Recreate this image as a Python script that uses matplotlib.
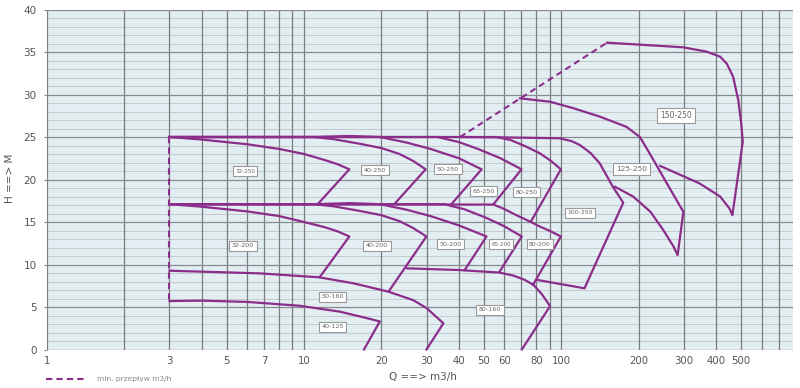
import matplotlib
matplotlib.use("Agg")
import matplotlib.pyplot as plt
from matplotlib.lines import Line2D

# pump curves, points (Q m3/h, H m)
curve_32_250 = [(3, 25.0), (4, 24.7), (6, 24.15), (8, 23.6), (10, 23.0), (12, 22.3), (13.5, 21.8), (15, 21.2),
                (11.3, 17.1)]
curve_40_250 = [(3, 25.0), (10.9, 25.0), (13, 24.75), (16.5, 24.2), (20, 23.7), (23.5, 23.0), (26.5, 22.2),
                (29.7, 21.2), (22.5, 17.15)]
curve_50_250 = [(3, 25.0), (11, 25.0), (15, 25.12), (19.7, 25.0), (25, 24.35), (31, 23.6), (40, 22.5),
                (49, 21.2), (37.5, 17.15)]
curve_65_250 = [(3, 25.0), (33, 25.0), (40, 24.4), (47.4, 23.6), (58, 22.5), (70, 21.2), (54.5, 17.1)]
curve_80_250 = [(3, 25.0), (56, 25.0), (63.4, 24.65), (72, 23.95), (82.3, 23.1), (91, 22.2), (99.6, 21.2),
                (76.3, 15.1)]
curve_100_250 = [(40.4, 25.0), (57.8, 24.96), (98.6, 24.85), (110, 24.5), (118, 24.06), (130, 23.1),
                 (141, 21.9), (158.5, 19.15), (174, 17.27), (123, 7.2), (80.2, 8.2)]
curve_125_250 = [(69.1, 29.55), (90.4, 29.15), (111, 28.4), (141, 27.4), (179, 26.2), (202, 25.0),
                 (228, 22.3), (257, 19.55), (298, 16.2), (283, 11.1), (273, 12.1), (249, 14.05),
                 (222, 16.2), (190, 18.0), (161.5, 19.15)]
curve_150_250 = [(150.5, 36.1), (298, 35.55), (366, 35.05), (414, 34.45), (440, 33.6), (465, 32.1),
                 (487, 29.35), (500, 26.6), (507, 24.45), (462, 15.8), (450, 16.6), (414, 18.0),
                 (344, 19.55), (242, 21.6)]

curve_32_200 = [(3, 17.1), (4, 16.8), (6, 16.25), (8, 15.7), (10, 15.0), (12, 14.4), (13.5, 13.9), (15, 13.3),
                (11.5, 8.5)]
curve_40_200 = [(3, 17.1), (10.9, 17.1), (13, 16.85), (16.5, 16.3), (20, 15.8), (23.5, 15.1), (26.5, 14.3),
                (29.9, 13.3), (21.3, 6.8)]
curve_50_200 = [(3, 17.1), (11, 17.1), (15, 17.22), (19.7, 17.1), (25, 16.45), (31, 15.7), (40, 14.6),
                (51.2, 13.3), (42.1, 9.35)]
curve_65_200 = [(3, 17.1), (35, 17.1), (42, 16.5), (51, 15.5), (60, 14.5), (70.2, 13.3), (57.5, 9.15)]
curve_80_200 = [(3, 17.1), (54.5, 17.05), (59.3, 16.6), (66.9, 15.8), (75, 15.1), (82.7, 14.45),
                (91, 13.9), (99.6, 13.3), (77.6, 7.6)]

curve_50_160 = [(3, 9.27), (6.7, 8.96), (11.4, 8.5), (15.5, 7.8), (21.3, 6.8), (26.6, 5.8), (30, 4.85),
                (34.8, 3.08), (29.9, 0)]
curve_40_125 = [(3, 5.7), (4, 5.75), (6, 5.6), (9.6, 5.15), (13.8, 4.45), (17.5, 3.7), (19.7, 3.3), (17.1, 0)]
curve_80_160 = [(25.1, 9.55), (40, 9.35), (57.5, 9.05), (65, 8.7), (72, 8.2), (78, 7.6), (84, 6.5),
                (90.4, 5.1), (70.2, 0)]

# minimum flow (dashed)
min_flow_vertical = [(3, 25.0), (3, 5.7)]
min_flow_diagonal = [(40.4, 25.0), (150.5, 36.1)]

label_names = ["32-250", "40-250", "50-250", "65-250", "80-250", "100-250", "125-250", "150-250",
               "32-200", "40-200", "50-200", "65-200", "80-200", "50-160", "40-125", "80-160"]
label_q = [5.9, 18.9, 36.3, 49.9, 73, 118, 187, 280, 5.8, 19.2, 37, 58.3, 82.6, 12.9, 12.9, 52.7]
label_h = [21.0, 21.1, 21.2, 18.6, 18.5, 16.1, 21.2, 27.5, 12.2, 12.2, 12.4, 12.4, 12.4, 6.2, 2.7, 4.7]

x_ticks = [1, 3, 5, 7, 10, 20, 30, 40, 50, 60, 80, 100, 200, 300, 400, 500]

purple = "#8b2d8b"

fig = plt.figure(figsize=(8, 3.88), dpi=100)
ax = fig.add_axes([0.0584, 0.0992, 0.9329, 0.8763])
ax.set_facecolor("#e3eef3")
ax.set_xscale("log")
ax.set_xlim(1, 795)
ax.set_ylim(0, 40)

# grid
grid_x = [m * 10 ** e for e in range(3) for m in range(1, 10) if m * 10 ** e < 795]
for gx in grid_x:
    ax.axvline(gx, color="#7a7d80", lw=0.9, zorder=1)
for gy in range(0, 41):
    if gy % 5 == 0:
        ax.axhline(gy, color="#858b8e", lw=0.9, zorder=1)
    else:
        ax.axhline(gy, color="#c2cacd", lw=0.7, zorder=0.9)

for s in ax.spines.values():
    s.set_visible(False)

ax.set_xticks(x_ticks)
ax.set_xticklabels([str(t) for t in x_ticks])
ax.set_xticks([], minor=True)
ax.tick_params(axis="x", which="both", length=0, pad=4.5, labelsize=7.3, labelcolor="#555555")
ax.set_yticks(range(0, 41, 5))
ax.tick_params(axis="y", length=2.5, pad=4.8, labelsize=7.5, labelcolor="#555555", color="#888888")

curves = [curve_32_250, curve_40_250, curve_50_250, curve_65_250, curve_80_250, curve_100_250,
          curve_125_250, curve_150_250, curve_32_200, curve_40_200, curve_50_200, curve_65_200,
          curve_80_200, curve_50_160, curve_40_125, curve_80_160]
for pts in curves:
    q, h = zip(*pts)
    ax.plot(q, h, color=purple, lw=1.6, solid_joinstyle="round", zorder=3, clip_on=False)

for pts in [min_flow_vertical, min_flow_diagonal]:
    q, h = zip(*pts)
    ax.plot(q, h, color=purple, lw=1.5, dashes=(3, 2), zorder=3)

sizes = [4.1, 4.6, 4.6, 4.6, 4.6, 4.4, 5.4, 5.5, 4.6, 4.6, 4.6, 4.0, 4.5, 4.6, 4.6, 4.6]
for name, q, h, fs in zip(label_names, label_q, label_h, sizes):
    ax.text(q, h, name, fontsize=fs, color="#666666", ha="center", va="center", zorder=5,
            bbox=dict(boxstyle="square,pad=0.4", fc="white", ec="#9a9a9a", lw=0.8))

fig.text(423 / 800, 1 - 377 / 388, "Q ==> m3/h", fontsize=7.5, color="#555555", ha="center", va="center")
fig.text(10 / 800, 1 - 178 / 388, "H ==> M", fontsize=7.5, color="#555555", ha="center", va="center",
         rotation=90)

# legend for the dashed line
fig.add_artist(Line2D([46 / 800, 86 / 800], [1 - 378.5 / 388] * 2, color=purple, lw=1.5, dashes=(3, 2)))
fig.text(97 / 800, 1 - 378.5 / 388, "min. przepływ m3/h", fontsize=5.4, color="#888888",
         ha="left", va="center")

fig.savefig("out.png", dpi=100)
